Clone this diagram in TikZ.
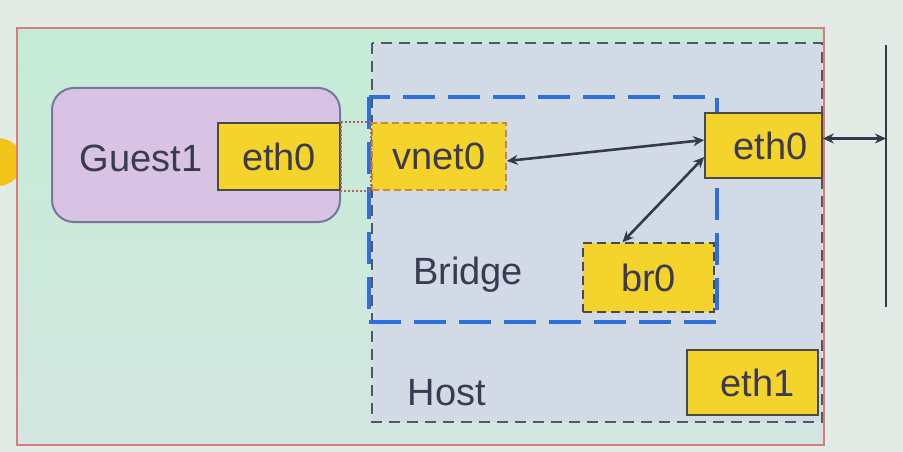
\documentclass[tikz,border=0pt]{standalone}
\usepackage{fontspec}
\setmainfont{Liberation Sans}
\usetikzlibrary{arrows.meta}
\definecolor{bgc}{HTML}{E3EBE6}
\definecolor{outerfillT}{HTML}{C4ECD5}
\definecolor{outerfillB}{HTML}{D3E6E1}
\definecolor{outerline}{HTML}{D97C7C}
\definecolor{hostfill}{HTML}{D2DAE5}
\definecolor{hostline}{HTML}{4F5A60}
\definecolor{bridgeline}{HTML}{2C6FDD}
\definecolor{guestfill}{HTML}{D8C3E4}
\definecolor{guestline}{HTML}{74799A}
\definecolor{ifyellow}{HTML}{F4D32A}
\definecolor{ifline}{HTML}{4A4A48}
\definecolor{vnetline}{HTML}{C98A3A}
\definecolor{linkline}{HTML}{B0645A}
\definecolor{txt}{HTML}{3A3B52}
\definecolor{arrowc}{HTML}{333A4A}
\definecolor{dotc}{HTML}{F2C41A}
\tikzset{
  iface/.style={draw=ifline, fill=ifyellow, line width=1.6pt, minimum width=#1, inner sep=0pt, text=txt, font=\fontsize{38}{40}\selectfont},
  lbl/.style={text=txt, font=\fontsize{38}{40}\selectfont, inner sep=0pt},
  conn/.style={draw=arrowc, line width=2.6pt, {Stealth[length=11pt,width=10pt]}-{Stealth[length=11pt,width=10pt]}}
}
\begin{document}
\begin{tikzpicture}[x=1pt,y=-1pt]
\useasboundingbox (0,0) rectangle (903,452);
\fill[bgc] (0,0) rectangle (903,452);
\begin{scope}
\clip (0,0) rectangle (903,452);
\fill[dotc] (-2,162) circle (24);
\end{scope}
% outer box
\shade[top color=outerfillT, bottom color=outerfillB] (17,28) rectangle (824,445);
\draw[outerline, line width=1.8pt] (17,28) rectangle (824,445);
% host
\fill[hostfill] (372,43) rectangle (822,422);
\draw[hostline, line width=2.2pt, dash pattern=on 11pt off 7pt] (372,43) rectangle (822,422);
% bridge
\draw[bridgeline, line width=3.2pt, dash pattern=on 32pt off 13pt] (369,97) rectangle (717,322);
% guest
\node[draw=guestline, fill=guestfill, line width=2pt, rounded corners=22pt, minimum width=288pt, minimum height=134pt] (guest) at (196,155) {};
\node[lbl] (guestlbl) at (141,158) {Guest1};
% interfaces
\node[iface=122pt, minimum height=67pt] (geth0) at (279,156.5) {eth0};
\node[iface=134pt, minimum height=67pt, draw=vnetline, dashed, dash pattern=on 7pt off 4pt] (vnet0) at (439,156.5) {vnet0};
\draw[linkline, line width=1.6pt, dash pattern=on 2pt off 2pt] (geth0.north east) rectangle (vnet0.south west);
\node[iface=117pt, minimum height=65pt] (heth0) at (763.5,145.5) {\hspace{14pt}eth0};
\node[iface=131pt, minimum height=69pt, dash pattern=on 9pt off 5pt] (br0) at (648.5,277.5) {br0};
\node[iface=131pt, minimum height=65pt] (eth1) at (752.5,382.5) {\hspace{10pt}eth1};
% labels
\node[lbl] (bridgelbl) at (468,275) {Bridge};
\node[lbl] (hostlbl) at (447,393) {Host};
% bus line
\coordinate (bustop) at (886,45);
\coordinate (busbot) at (886,307);
\draw[arrowc, line width=2.8pt] (bustop) -- (busbot);
% connectors
\draw[conn] ([yshift=-4.5pt]vnet0.east) -- ([yshift=5.5pt]heth0.west);
\draw[conn] ([xshift=-26pt]br0.north) -- ([yshift=-11.5pt]heth0.west);
\coordinate (busjoin) at ([yshift=7pt]heth0.east -| bustop);
\draw[conn] ([yshift=7pt]heth0.east) -- (busjoin);
\end{tikzpicture}
\end{document}
